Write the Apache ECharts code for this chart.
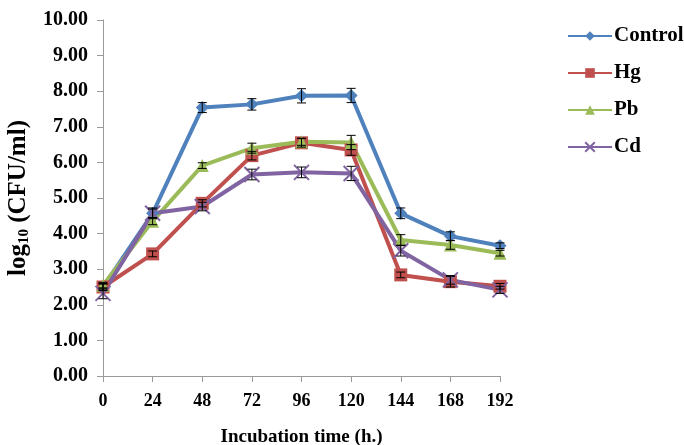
<!DOCTYPE html>
<html>
<head>
<meta charset="utf-8">
<script src="https://cdn.jsdelivr.net/npm/echarts@6/dist/echarts.min.js"></script>
<style>
  html, body { margin: 0; padding: 0; background: #fff; }
  #main { width: 684px; height: 445px; }
</style>
</head>
<body>
<div id="main"></div>
<script>
// hours of incubation
var hours = [0, 24, 48, 72, 96, 120, 144, 168, 192];

var control = [2.50, 4.57, 7.54, 7.63, 7.87, 7.88, 4.57, 3.93, 3.66];
var hg      = [2.50, 3.43, 4.85, 6.19, 6.55, 6.35, 2.84, 2.65, 2.52];
var pb      = [2.55, 4.35, 5.91, 6.40, 6.58, 6.56, 3.82, 3.68, 3.45];
var cd      = [2.32, 4.57, 4.76, 5.66, 5.72, 5.69, 3.52, 2.70, 2.42];

// +/- error (log units)
var controlErr = [0.10, 0.12, 0.14, 0.16, 0.20, 0.20, 0.15, 0.12, 0.08];
var hgErr      = [0.08, 0.08, 0.10, 0.12, 0.12, 0.15, 0.08, 0.15, 0.08];
var pbErr      = [0.08, 0.10, 0.08, 0.14, 0.10, 0.20, 0.15, 0.12, 0.08];
var cdErr      = [0.15, 0.15, 0.12, 0.15, 0.15, 0.20, 0.15, 0.12, 0.10];

var names = ['Control', 'Hg', 'Pb', 'Cd'];
var colors = ['#4F81BD', '#C0504D', '#9BBB59', '#8064A2'];
var symbols = [
  'diamond',
  'rect',
  'triangle',
  'path://M0,0 L10,10 M10,0 L0,10'
];

var font = '"Liberation Serif", "Times New Roman", serif';

function pairs(ys) {
  return hours.map(function (h, i) { return [h, ys[i]]; });
}

function errSeries(ys, errs) {
  return {
    type: 'custom',
    z: 5,
    silent: true,
    data: hours.map(function (h, i) { return [h, ys[i] - errs[i], ys[i] + errs[i]]; }),
    renderItem: function (params, api) {
      var lo = api.coord([api.value(0), api.value(1)]);
      var hi = api.coord([api.value(0), api.value(2)]);
      var w = 4.5;
      var st = { stroke: '#000', lineWidth: 1 };
      return {
        type: 'group',
        children: [
          { type: 'line', shape: { x1: lo[0], y1: lo[1], x2: hi[0], y2: hi[1] }, style: st },
          { type: 'line', shape: { x1: lo[0] - w, y1: lo[1], x2: lo[0] + w, y2: lo[1] }, style: st },
          { type: 'line', shape: { x1: hi[0] - w, y1: hi[1], x2: hi[0] + w, y2: hi[1] }, style: st }
        ]
      };
    }
  };
}

var allVals = [control, hg, pb, cd];
var allErrs = [controlErr, hgErr, pbErr, cdErr];

var series = [];
allVals.forEach(function (v, i) {
  series.push({
    name: names[i],
    type: 'line',
    data: pairs(v),
    symbol: symbols[i],
    symbolSize: i === 3 ? 15 : 13,
    z: 3,
    lineStyle: { color: colors[i], width: 4 },
    itemStyle: i === 3
      ? { color: colors[i], borderColor: colors[i], borderWidth: 2 }
      : { color: colors[i] }
  });
});
allVals.forEach(function (v, i) {
  series.push(errSeries(v, allErrs[i]));
});

var chart = echarts.init(document.getElementById('main'));
chart.setOption({
  animation: false,
  backgroundColor: '#fff',
  grid: { left: 103, right: 184, top: 20, bottom: 69, outerBoundsMode: 'none', containLabel: false },
  legend: {
    orient: 'vertical',
    left: 562,
    top: 20,
    itemGap: 15,
    itemWidth: 44,
    itemHeight: 12,
    data: names,
    textStyle: { fontFamily: font, fontWeight: 'bold', fontSize: 21, color: '#000', padding: [0, 0, 0, -3], lineHeight: 22 }
  },
  xAxis: {
    type: 'value',
    min: 0,
    max: 192,
    interval: 24,
    name: 'Incubation time (h.)',
    nameLocation: 'middle',
    nameGap: 52,
    nameTextStyle: { fontFamily: font, fontWeight: 'bold', fontSize: 19, color: '#000' },
    axisLine: { lineStyle: { color: '#9a9a9a' } },
    axisTick: { show: true, length: 6, lineStyle: { color: '#9a9a9a' } },
    axisLabel: { fontFamily: font, fontWeight: 'bold', fontSize: 18, color: '#000', margin: 16 },
    splitLine: { show: false }
  },
  yAxis: {
    type: 'value',
    min: 0,
    max: 10,
    interval: 1,
    name: '{a|log}{s|10}{a| (CFU/ml)}',
    nameLocation: 'middle',
    nameGap: 68,
    nameRotate: 90,
    nameTextStyle: {
      rich: {
        a: { fontFamily: font, fontWeight: 'bold', fontSize: 25, color: '#000', lineHeight: 28 },
        s: { fontFamily: font, fontWeight: 'bold', fontSize: 15, color: '#000', verticalAlign: 'bottom', padding: [11, 0, 0, 0], lineHeight: 28 }
      }
    },
    axisLine: { show: true, lineStyle: { color: '#9a9a9a' } },
    axisTick: { show: true, length: 6, lineStyle: { color: '#9a9a9a' } },
    axisLabel: {
      fontFamily: font, fontWeight: 'bold', fontSize: 20, color: '#000', margin: 15,
      formatter: function (v) { return v.toFixed(2); }
    },
    splitLine: { show: false }
  },
  series: series
});
</script>
</body>
</html>
